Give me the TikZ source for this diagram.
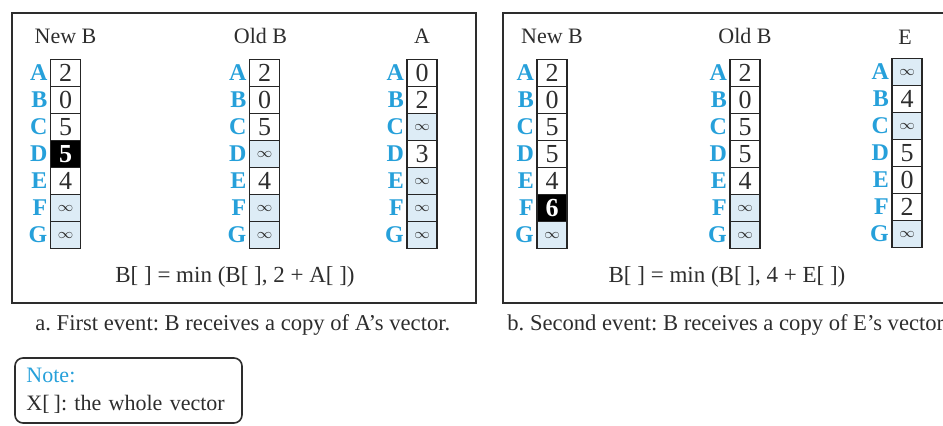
\documentclass[tikz,border=0pt]{standalone}
\usepackage{fontspec}
\setmainfont{Liberation Serif}
\usepackage{tikz}
\usetikzlibrary{positioning}
\definecolor{lblblue}{RGB}{38,160,218}
\definecolor{infblue}{RGB}{221,236,246}
\definecolor{inkgray}{RGB}{45,45,45}
\newcommand{\infsym}{{\fontsize{7}{7}\selectfont$\infty$}}

\begin{document}
\frenchspacing
\begin{tikzpicture}[x=0.5pt,y=-0.5pt,
  wc/.style={draw=black!85,line width=0.7pt,minimum width=15pt,minimum height=13.5pt,inner sep=0pt,text=inkgray,font=\fontsize{13}{13}\selectfont},
  ic/.style={wc,fill=infblue},
  bc/.style={wc,fill=black,text=white,font=\fontsize{13}{13}\selectfont\bfseries},
  lbl/.style={inner sep=0pt,text=lblblue,font=\fontsize{12}{12}\selectfont\bfseries},
  head/.style={inner sep=0pt,text=inkgray,font=\fontsize{11}{11}\selectfont},
  capt/.style={head,anchor=base west,font=\fontsize{11.3}{11.3}\selectfont},
  panel/.style={draw=inkgray,line width=1pt}]
  \useasboundingbox (0,0) rectangle (943,426);
  \draw[panel] (12,13) rectangle (476,303);
  \draw[panel] (503,13) rectangle (980,303);

  \foreach \l/\s/\v [count=\r] in {A/wc/2,B/wc/0,C/wc/5,D/bc/5,E/wc/4,F/ic/\infsym,G/ic/\infsym}{
    \node[\s] (nb1\l) at (65.5,46+27*\r) {\v};
    \node[lbl,left=1pt of nb1\l] (lnb1\l) {\l};
  }
  \foreach \l/\s/\v [count=\r] in {A/wc/2,B/wc/0,C/wc/5,D/ic/\infsym,E/wc/4,F/ic/\infsym,G/ic/\infsym}{
    \node[\s] (ob1\l) at (264.5,46+27*\r) {\v};
    \node[lbl,left=1pt of ob1\l] (lob1\l) {\l};
  }
  \foreach \l/\s/\v [count=\r] in {A/wc/0,B/wc/2,C/ic/\infsym,D/wc/3,E/ic/\infsym,F/ic/\infsym,G/ic/\infsym}{
    \node[\s] (av\l) at (422,46+27*\r) {\v};
    \node[lbl,left=1pt of av\l] (lav\l) {\l};
  }
  \foreach \l/\s/\v [count=\r] in {A/wc/2,B/wc/0,C/wc/5,D/wc/5,E/wc/4,F/bc/6,G/ic/\infsym}{
    \node[\s] (nb2\l) at (552,46+27*\r) {\v};
    \node[lbl,left=1pt of nb2\l] (lnb2\l) {\l};
  }
  \foreach \l/\s/\v [count=\r] in {A/wc/2,B/wc/0,C/wc/5,D/wc/5,E/wc/4,F/ic/\infsym,G/ic/\infsym}{
    \node[\s] (ob2\l) at (745,46+27*\r) {\v};
    \node[lbl,left=1pt of ob2\l] (lob2\l) {\l};
  }
  \foreach \l/\s/\v [count=\r] in {A/ic/\infsym,B/wc/4,C/ic/\infsym,D/wc/5,E/wc/0,F/wc/2,G/ic/\infsym}{
    \node[\s] (ev\l) at (907,45+27*\r) {\v};
    \node[lbl,left=1pt of ev\l] (lev\l) {\l};
  }

  \node[head,above=7.5pt of nb1A] (hnb1) {New B};
  \node[head,above=7.5pt of ob1A,xshift=-2pt] (hob1) {Old B};
  \node[head,above=7.5pt of avA] (hav) {A};
  \node[head,above=7.5pt of nb2A] (hnb2) {New B};
  \node[head,above=7.5pt of ob2A] (hob2) {Old B};
  \node[head,above=6.5pt of evA,xshift=-1pt] (hev) {E};

  \node[head,font=\fontsize{11.5}{11.5}\selectfont] (f1) at (235,277) {B[\ ] = min (B[\ ], 2 + A[\ ])};
  \node[head,font=\fontsize{11.5}{11.5}\selectfont] (f2) at (727,277) {B[\ ] = min (B[\ ], 4 + E[\ ])};

  \node[capt] (capa) at (35,331) {a. First event: B receives a copy of A's vector.};
  \node[capt] (capb) at (507,331) {b. Second event: B receives a copy of E's vector.};

  \node[draw=inkgray,line width=0.8pt,rounded corners=4pt,minimum width=113.5pt,minimum height=32.5pt,
    inner xsep=4.75pt,text width=104pt,align=left,text=inkgray,font=\fontsize{11}{14}\selectfont]
    (note) at (128.5,390.5) {\hspace*{1pt}\textcolor{lblblue}{Note:}\\\hspace*{1pt}X[\hspace{2pt}]: the whole vector};
\end{tikzpicture}
\end{document}
